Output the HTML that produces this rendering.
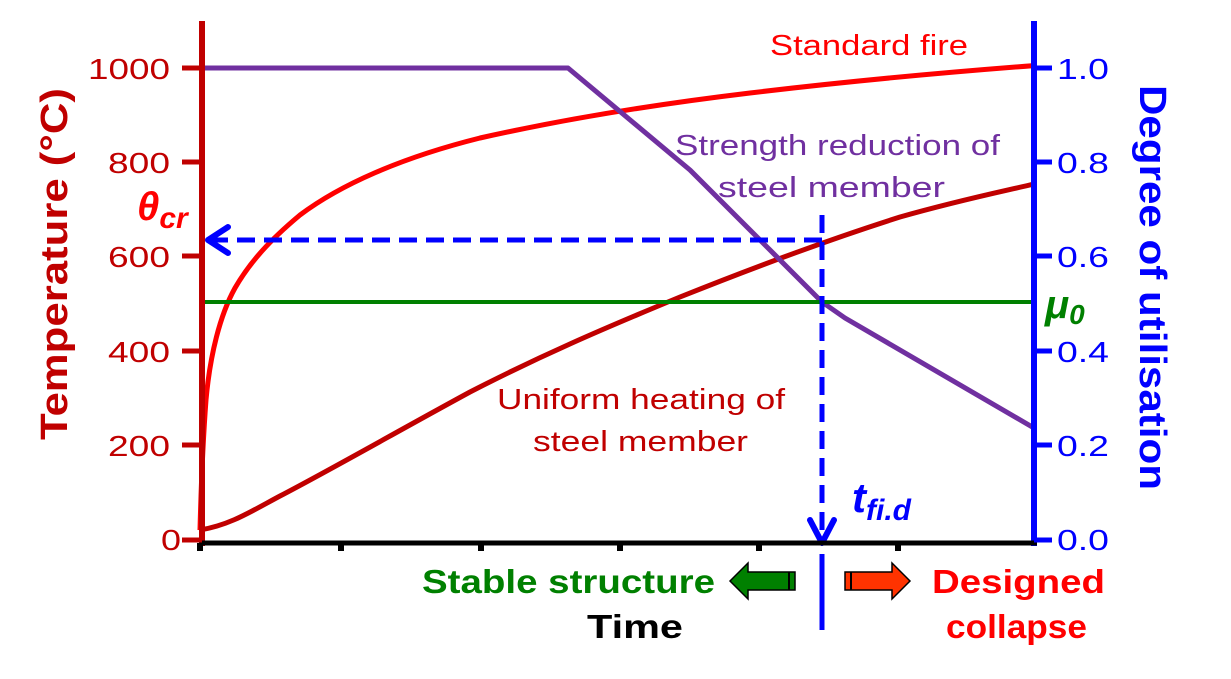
<!DOCTYPE html>
<html><head><meta charset="utf-8"><style>
body{margin:0;background:#fff}
svg text{font-family:"Liberation Sans",Arial,sans-serif}
</style></head><body>
<svg width="1231" height="674" viewBox="0 0 1231 674" xmlns="http://www.w3.org/2000/svg">
<!-- curves -->
<path fill="none" stroke="#ff0000" stroke-width="5" stroke-linejoin="round" d="M200,530 C201,490 203,440 206,400 C210,355 220,315 235,288 C250,262 270,240 300,215 C340,185 400,158 480,138 C560,120 650,105 750,93 C850,81 950,72 1034,65.6"/>
<path fill="none" stroke="#c00000" stroke-width="5" d="M200,530 C230,525 250,512 280,496 C330,470 400,430 470,392 C540,356 600,330 680,297 C760,265 840,236 900,217 C960,200 1000,192 1034,184"/>
<polyline fill="none" stroke="#7030a0" stroke-width="5" stroke-linejoin="round" points="200,68 568,68 690,170 760,240 822,302 845,318 1034,428"/>
<line x1="200" y1="302" x2="1034" y2="302" stroke="#008000" stroke-width="4"/>
<!-- dashed blue -->
<line x1="822" y1="240" x2="212" y2="240" stroke="#0000ff" stroke-width="5" stroke-dasharray="18,9"/>
<polyline fill="none" stroke="#0000ff" stroke-width="6" stroke-linecap="round" stroke-linejoin="round" points="228,227 208,240 228,253"/>
<line x1="822" y1="215" x2="822" y2="535" stroke="#0000ff" stroke-width="5" stroke-dasharray="18,9"/>
<polyline fill="none" stroke="#0000ff" stroke-width="6" stroke-linecap="round" stroke-linejoin="round" points="810,520 822,543 834,520"/>
<line x1="822" y1="554" x2="822" y2="630" stroke="#0000ff" stroke-width="5"/>
<!-- axes -->
<line x1="202" y1="21" x2="202" y2="546" stroke="#c00000" stroke-width="6"/>
<line x1="1034" y1="21" x2="1034" y2="546" stroke="#0000ff" stroke-width="6"/>
<line x1="199" y1="543" x2="1037" y2="543" stroke="#000" stroke-width="5"/>
<g stroke="#c00000" stroke-width="5">
<line x1="182" y1="68" x2="202" y2="68"/><line x1="182" y1="162" x2="202" y2="162"/><line x1="182" y1="256" x2="202" y2="256"/><line x1="182" y1="351" x2="202" y2="351"/><line x1="182" y1="445" x2="202" y2="445"/><line x1="182" y1="540" x2="202" y2="540"/>
</g>
<g stroke="#0000ff" stroke-width="5">
<line x1="1034" y1="68" x2="1052" y2="68"/><line x1="1034" y1="162" x2="1052" y2="162"/><line x1="1034" y1="256" x2="1052" y2="256"/><line x1="1034" y1="351" x2="1052" y2="351"/><line x1="1034" y1="445" x2="1052" y2="445"/><line x1="1034" y1="540" x2="1052" y2="540"/>
</g>
<g stroke="#000" stroke-width="6">
<line x1="341" y1="543" x2="341" y2="551"/><line x1="481" y1="543" x2="481" y2="551"/><line x1="620" y1="543" x2="620" y2="551"/><line x1="759" y1="543" x2="759" y2="551"/><line x1="898" y1="543" x2="898" y2="551"/><line x1="200" y1="543" x2="200" y2="551"/>
</g>
<!-- tick labels -->
<g fill="#c00000" font-size="29">
<text x="88" y="79" textLength="82" lengthAdjust="spacingAndGlyphs">1000</text>
<text x="108" y="173" textLength="62" lengthAdjust="spacingAndGlyphs">800</text>
<text x="108" y="267" textLength="62" lengthAdjust="spacingAndGlyphs">600</text>
<text x="108" y="362" textLength="62" lengthAdjust="spacingAndGlyphs">400</text>
<text x="108" y="456" textLength="62" lengthAdjust="spacingAndGlyphs">200</text>
<text x="161" y="550" textLength="20" lengthAdjust="spacingAndGlyphs">0</text>
</g>
<g fill="#0000ff" font-size="29">
<text x="1057" y="79" textLength="52" lengthAdjust="spacingAndGlyphs">1.0</text>
<text x="1057" y="173" textLength="52" lengthAdjust="spacingAndGlyphs">0.8</text>
<text x="1057" y="267" textLength="52" lengthAdjust="spacingAndGlyphs">0.6</text>
<text x="1057" y="362" textLength="52" lengthAdjust="spacingAndGlyphs">0.4</text>
<text x="1057" y="456" textLength="52" lengthAdjust="spacingAndGlyphs">0.2</text>
<text x="1057" y="550" textLength="52" lengthAdjust="spacingAndGlyphs">0.0</text>
</g>
<text transform="translate(67,440) rotate(-90)" fill="#c00000" font-size="38" font-weight="bold" textLength="352" lengthAdjust="spacingAndGlyphs">Temperature (°C)</text>
<text transform="translate(1140,85) rotate(90)" fill="#0000ff" font-size="38" font-weight="bold" textLength="405" lengthAdjust="spacingAndGlyphs">Degree of utilisation</text>
<!-- labels -->
<text x="770" y="55" fill="#ff0000" font-size="29" textLength="198" lengthAdjust="spacingAndGlyphs">Standard fire</text>
<text x="675" y="155" fill="#7030a0" font-size="29" textLength="325" lengthAdjust="spacingAndGlyphs">Strength reduction of</text>
<text x="718" y="197" fill="#7030a0" font-size="29" textLength="227" lengthAdjust="spacingAndGlyphs">steel member</text>
<text x="497" y="409" fill="#c00000" font-size="29" textLength="288" lengthAdjust="spacingAndGlyphs">Uniform heating of</text>
<text x="533" y="451" fill="#c00000" font-size="29" textLength="215" lengthAdjust="spacingAndGlyphs">steel member</text>
<text x="137" y="220" fill="#ff0000" font-size="40" font-weight="bold" font-style="italic">θ<tspan font-size="30" dy="8">cr</tspan></text>
<text x="1045" y="318" fill="#008000" font-size="40" font-weight="bold" font-style="italic">μ<tspan font-size="28" dy="6">0</tspan></text>
<text x="852" y="512" fill="#0000ff" font-size="42" font-weight="bold" font-style="italic">t<tspan font-size="30" dy="8">fi.d</tspan></text>
<text x="422" y="593" fill="#008000" font-size="33" font-weight="bold" textLength="293" lengthAdjust="spacingAndGlyphs">Stable structure</text>
<text x="587" y="638" fill="#000" font-size="33" font-weight="bold" textLength="96" lengthAdjust="spacingAndGlyphs">Time</text>
<text x="932" y="593" fill="#ff0000" font-size="33" font-weight="bold" textLength="173" lengthAdjust="spacingAndGlyphs">Designed</text>
<text x="946" y="638" fill="#ff0000" font-size="33" font-weight="bold" textLength="141" lengthAdjust="spacingAndGlyphs">collapse</text>
<!-- fat arrows -->
<polygon points="730,581 748,563 748,572 795,572 795,590 748,590 748,599" fill="#008000" stroke="#000" stroke-width="1.5"/>
<line x1="789" y1="572" x2="789" y2="590" stroke="#000" stroke-width="2"/>
<polygon points="910,581 892,563 892,572 845,572 845,590 892,590 892,599" fill="#ff3300" stroke="#000" stroke-width="1.5"/>
<line x1="851" y1="572" x2="851" y2="590" stroke="#000" stroke-width="2"/>
</svg>
</body></html>
